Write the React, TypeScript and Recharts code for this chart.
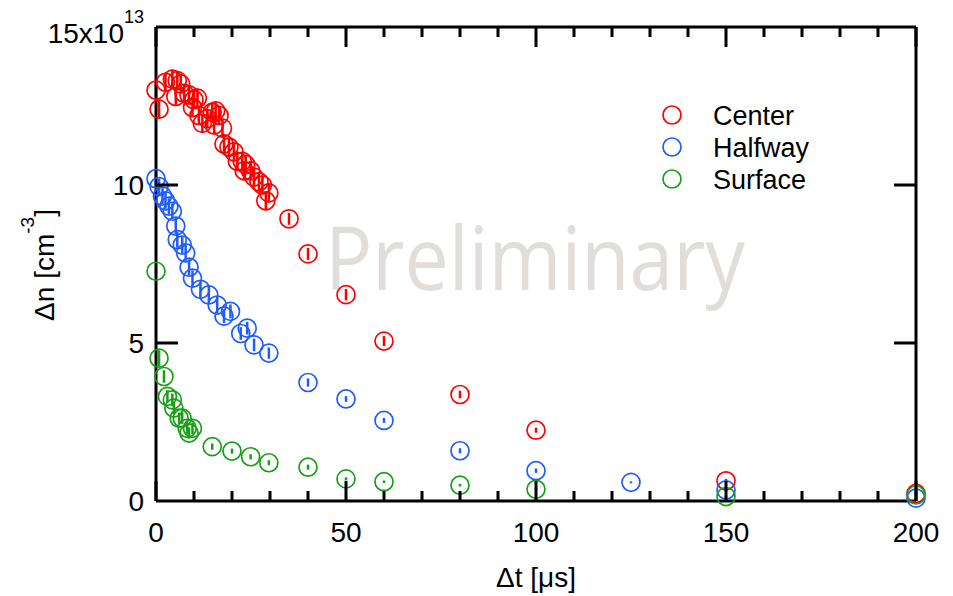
import React from "react";
import { ScatterChart, Scatter, XAxis, YAxis, ErrorBar } from "recharts";

// values (x in µs, Δn in units of 10^13 cm^-3)
const centerT = [0, 0.8, 2.5, 4.3, 5.2, 5.6, 6.5, 7.4, 8.7, 9.6, 10, 10.9, 11.3, 12.2, 13.5, 14.8, 15.3, 15.7, 16.6, 17.5, 17.9, 19.2, 20.5, 21.4, 22.7, 23.2, 23.6, 24.9, 25.8, 27.1, 28, 28.9, 29.7, 35, 40, 50, 60, 80, 100, 150, 200];
const centerN = [13.0, 12.4, 13.25, 13.35, 12.8, 13.3, 13.2, 12.9, 12.85, 12.45, 12.7, 12.75, 12.2, 11.95, 12.1, 12.3, 11.9, 12.35, 12.2, 11.8, 11.3, 11.2, 11.05, 10.75, 10.75, 10.45, 10.65, 10.45, 10.25, 10.1, 10.0, 9.5, 9.75, 8.93, 7.82, 6.53, 5.06, 3.37, 2.24, 0.64, 0.24];
const centerErr = [0.3, 0.3, 0.3, 0.3, 0.3, 0.3, 0.3, 0.3, 0.3, 0.3, 0.3, 0.3, 0.3, 0.3, 0.3, 0.3, 0.3, 0.3, 0.3, 0.3, 0.3, 0.3, 0.3, 0.3, 0.3, 0.3, 0.3, 0.3, 0.3, 0.3, 0.3, 0.3, 0.3, 0.19, 0.19, 0.18, 0.16, 0.12, 0.08, 0.06, 0.04];

const halfT = [0, 0.8, 1.7, 2.5, 3.4, 4.3, 5.2, 5.6, 6.9, 7.8, 8.7, 9.6, 11.7, 13.9, 16.1, 17.9, 19.6, 22.3, 24, 25.8, 29.7, 40, 50, 60, 80, 100, 125, 150, 200];
const halfN = [10.2, 9.95, 9.65, 9.5, 9.33, 9.17, 8.7, 8.27, 8.1, 7.85, 7.4, 7.05, 6.7, 6.52, 6.2, 5.85, 6.0, 5.3, 5.47, 4.94, 4.68, 3.75, 3.23, 2.55, 1.59, 0.96, 0.59, 0.35, 0.09];
const halfErr = [0.25, 0.25, 0.25, 0.25, 0.25, 0.25, 0.25, 0.25, 0.25, 0.25, 0.25, 0.25, 0.25, 0.25, 0.25, 0.22, 0.22, 0.2, 0.2, 0.2, 0.18, 0.13, 0.09, 0.08, 0.08, 0.07, 0.03, 0.04, 0.03];

const surfT = [0, 0.8, 2.1, 3, 4.3, 4.7, 6.1, 6.9, 8.2, 8.7, 9.6, 14.8, 20, 24.9, 29.7, 40, 50, 60, 80, 100, 150, 200];
const surfN = [7.27, 4.52, 3.94, 3.31, 3.2, 2.94, 2.62, 2.62, 2.3, 2.15, 2.3, 1.72, 1.58, 1.4, 1.21, 1.07, 0.7, 0.61, 0.5, 0.37, 0.14, 0.19];
const surfErr = [0.05, 0.25, 0.2, 0.2, 0.2, 0.2, 0.18, 0.18, 0.18, 0.18, 0.18, 0.1, 0.08, 0.08, 0.08, 0.08, 0.05, 0.04, 0.04, 0.04, 0.03, 0.03];

const xTicks = [0, 10, 20, 30, 40, 50, 60, 70, 80, 90, 100, 110, 120, 130, 140, 150, 160, 170, 180, 190, 200];
const yTicks = [0, 5, 10, 15];

const FONT = "'Liberation Sans', Arial, sans-serif";

const build = (t: number[], n: number[], e: number[]) => t.map((v, i) => ({ t: v, n: n[i], err: e[i] }));

const series = [
  { name: "Center", color: "#ff0000", data: build(centerT, centerN, centerErr) },
  { name: "Halfway", color: "#1f5cff", data: build(halfT, halfN, halfErr) },
  { name: "Surface", color: "#17a017", data: build(surfT, surfN, surfErr) },
];

function BottomTick(props: any) {
  const { x, y, payload } = props;
  const major = payload.value % 50 === 0;
  return (
    <g>
      <line x1={x} x2={x} y1={y} y2={y - (major ? 20 : 10)} stroke="#000" strokeWidth={3} />
      {major && (
        <text x={x} y={y + 41} textAnchor="middle" fontSize={28} fontFamily={FONT} fill="#000">
          {payload.value}
        </text>
      )}
    </g>
  );
}

function TopTick(props: any) {
  const { x, y, payload } = props;
  const major = payload.value % 50 === 0;
  return <line x1={x} x2={x} y1={y} y2={y + (major ? 20 : 10)} stroke="#000" strokeWidth={3} />;
}

function LeftTick(props: any) {
  const { x, y, payload } = props;
  const v = payload.value;
  if (v === 15) {
    return (
      <text x={x - 12} y={y + 16} textAnchor="end" fontSize={28} fontFamily={FONT} fill="#000">
        15x10<tspan dy={-20} fontSize={18}>13</tspan>
      </text>
    );
  }
  return (
    <g>
      {v !== 0 && <line x1={x} x2={x + 22} y1={y} y2={y} stroke="#000" strokeWidth={3} />}
      <text x={x - 12} y={y + 10} textAnchor="end" fontSize={28} fontFamily={FONT} fill="#000">
        {v}
      </text>
    </g>
  );
}

function RightTick(props: any) {
  const { x, y, payload } = props;
  if (payload.value === 0 || payload.value === 15) return <g />;
  return <line x1={x} x2={x - 22} y1={y} y2={y} stroke="#000" strokeWidth={3} />;
}

const axisLine = { stroke: "#000", strokeWidth: 3 };

export default function App() {
  return (
    <div style={{ position: "absolute", left: 0, top: 0, width: 953, height: 596, background: "#fff" }}>
      {/* watermark, axis titles and legend behind the chart */}
      <svg width={953} height={596} style={{ position: "absolute", left: 0, top: 0 }}>
        <text
          x={325}
          y={290}
          fontSize={87}
          fontFamily="'Open Sans', 'Noto Sans', sans-serif"
          fill="#e1dddb"
          textLength={420}
          lengthAdjust="spacingAndGlyphs"
        >
          Preliminary
        </text>
        <text x={536} y={587} textAnchor="middle" fontSize={28} fontFamily={FONT} fill="#000">
          Δt [μs]
        </text>
        <text transform="rotate(-90)" x={-265} y={54} textAnchor="middle" fontSize={28} fontFamily={FONT} fill="#000">
          Δn [cm<tspan dy={-20} fontSize={19}>-3</tspan>
          <tspan dy={20}>]</tspan>
        </text>
        {series.map((s, i) => (
          <g key={s.name}>
            <circle cx={672} cy={115 + i * 32} r={9} fill="none" stroke={s.color} strokeWidth={1.7} />
            <text x={713} y={125 + i * 32} fontSize={27} fontFamily={FONT} fill="#000">
              {s.name}
            </text>
          </g>
        ))}
      </svg>
      <div style={{ position: "absolute", left: 0, top: 0 }}>
        <ScatterChart width={953} height={596} margin={{ top: 0, right: 0, bottom: 0, left: 0 }}>
          <XAxis
            xAxisId="b"
            type="number"
            dataKey="t"
            domain={[0, 200]}
            ticks={xTicks}
            interval={0}
            height={95}
            axisLine={axisLine}
            tickLine={false}
            tickSize={0}
            tickMargin={0}
            tick={<BottomTick />}
          />
          <XAxis
            xAxisId="top"
            orientation="top"
            type="number"
            dataKey="t"
            domain={[0, 200]}
            allowDataOverflow
            ticks={xTicks}
            interval={0}
            height={27}
            axisLine={axisLine}
            tickLine={false}
            tickSize={0}
            tickMargin={0}
            tick={<TopTick />}
          />
          <YAxis
            yAxisId="l"
            type="number"
            dataKey="n"
            domain={[0, 15]}
            ticks={yTicks}
            interval={0}
            width={156}
            axisLine={axisLine}
            tickLine={false}
            tickSize={0}
            tickMargin={0}
            tick={<LeftTick />}
          />
          <YAxis
            yAxisId="r"
            orientation="right"
            type="number"
            dataKey="n"
            domain={[0, 15]}
            allowDataOverflow
            ticks={yTicks}
            interval={0}
            width={37}
            axisLine={axisLine}
            tickLine={false}
            tickSize={0}
            tickMargin={0}
            tick={<RightTick />}
          />
          {series.map((s) => (
            <Scatter
              key={s.name}
              name={s.name}
              data={s.data}
              xAxisId="b"
              yAxisId="l"
              isAnimationActive={false}
              shape={(p: any) => (
                <circle cx={p.cx} cy={p.cy} r={9} fill="none" stroke={s.color} strokeWidth={1.7} />
              )}
            >
              <ErrorBar dataKey="err" direction="y" width={0} stroke={s.color} strokeWidth={2.5} isAnimationActive={false} />
            </Scatter>
          ))}
        </ScatterChart>
      </div>
    </div>
  );
}
